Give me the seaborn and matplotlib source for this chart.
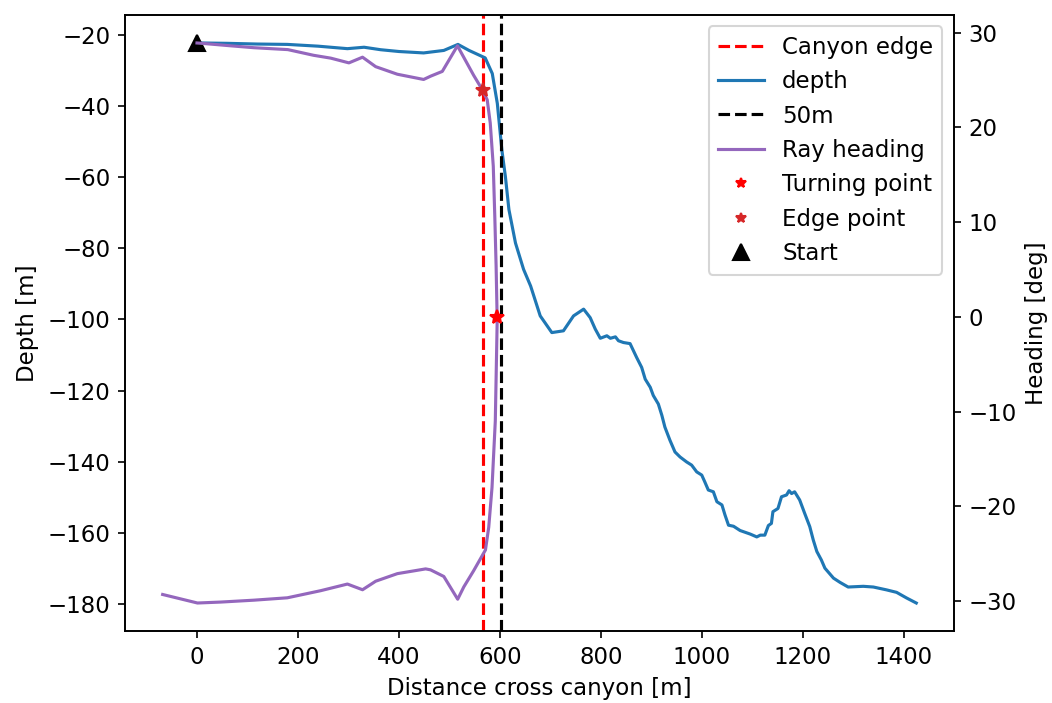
import numpy as np
import pandas as pd
import matplotlib
matplotlib.use("Agg")
import matplotlib.pyplot as plt
from matplotlib.lines import Line2D
import seaborn as sns

plt.rcParams["font.size"] = 11

# depth profile across the canyon
depth_x = [0, 8, 60, 120, 179, 240, 298, 331, 364, 400, 449, 489, 517, 539, 571, 585,
           595, 604, 611, 618, 631, 647, 661, 680, 703, 726, 746, 766, 779, 789, 799,
           812, 819, 829, 835, 845, 858, 871, 881, 888, 898, 904, 914, 921, 927, 937,
           947, 957, 970, 980, 990, 1000, 1006, 1013, 1023, 1030, 1040, 1046, 1053,
           1063, 1076, 1096, 1109, 1116, 1125, 1132, 1138, 1141, 1151, 1158, 1168,
           1173, 1178, 1184, 1194, 1204, 1214, 1221, 1228, 1237, 1244, 1261, 1274,
           1290, 1320, 1340, 1366, 1386, 1406, 1425]
depth_y = [-22.2, -22.2, -22.3, -22.5, -22.6, -23.1, -23.8, -23.4, -24.1, -24.6, -25.0,
           -24.3, -22.6, -24.3, -26.4, -30.8, -39.2, -52.3, -59.8, -69.1, -78.5, -85.9,
           -90.6, -99.0, -103.7, -103.2, -99.0, -97.1, -99.5, -102.7, -105.3, -104.6,
           -105.3, -104.9, -106.0, -106.5, -106.8, -110.7, -113.5, -116.8, -119.1,
           -121.4, -123.8, -127.0, -130.3, -134.0, -137.3, -138.7, -140.1, -141.0,
           -142.9, -143.8, -145.7, -148.0, -148.5, -151.3, -152.2, -155.0, -157.9,
           -158.2, -159.4, -160.4, -161.2, -160.7, -160.7, -158.0, -157.4, -154.1,
           -153.2, -149.9, -149.4, -148.2, -149.0, -148.5, -150.8, -154.6, -158.3,
           -162.1, -165.3, -167.7, -170.0, -172.8, -174.0, -175.3, -175.1, -175.3,
           -176.1, -176.8, -178.4, -179.8]

# ray path: cross-canyon distance vs heading (goes out and comes back)
ray_x = [0, 8, 67, 113, 180, 231, 265, 301, 328, 354, 397, 449, 463, 486, 516, 548,
         566, 575, 581, 587, 590, 592.6, 594.6, 594.6, 591, 584.5, 578, 571.5, 548,
         528.6, 516.5, 489, 462.7, 453, 397, 354, 328, 298, 245, 179, 113, 47, 1, -68]
ray_heading = [28.9, 28.87, 28.6, 28.4, 28.2, 27.6, 27.3, 26.8, 27.4, 26.4, 25.6, 25.05,
               25.4, 25.9, 28.6, 25.5, 23.9, 22.9, 20.45, 15.9, 10.6, 5.4, 0.0, -0.8,
               -11.0, -18.0, -22.2, -24.6, -26.8, -28.5, -29.8, -27.4, -26.7, -26.6,
               -27.1, -27.9, -28.8, -28.2, -28.9, -29.65, -29.9, -30.1, -30.2, -29.3]

canyon_edge_x = 566
line_50m_x = 603
turning_point = (594.6, 0.0)
edge_point = (566, 23.9)
start_point = (0, -22.2)

depth_df = pd.DataFrame({"x": depth_x, "depth": depth_y})
ray_df = pd.DataFrame({"x": ray_x, "heading": ray_heading})

fig = plt.figure(figsize=(10.52 / 1.5, 7.03 / 1.5), dpi=150)
ax1 = fig.add_axes([0.1188, 0.1024, 0.788, 0.8763])
ax2 = ax1.twinx()

h_edge = ax1.axvline(canyon_edge_x, color="r", linestyle="--", label="Canyon edge")
sns.lineplot(data=depth_df, x="x", y="depth", ax=ax1, color="tab:blue", sort=False,
             estimator=None, legend=False)
h_depth = ax1.get_lines()[-1]
h_depth.set_label("depth")
h_50 = ax1.axvline(line_50m_x, color="k", linestyle="--", label="50m")
h_start, = ax1.plot([start_point[0]], [start_point[1]], "k^", markersize=8, label="Start")

sns.lineplot(data=ray_df, x="x", y="heading", ax=ax2, color="tab:purple", sort=False,
             estimator=None, legend=False)
h_ray = ax2.get_lines()[-1]
h_ray.set_label("Ray heading")
ax2.plot([turning_point[0]], [turning_point[1]], "r*", markersize=7)
ax2.plot([edge_point[0]], [edge_point[1]], "*", color="tab:red", markersize=7)

# smaller star markers in the legend, like the original
h_turn = Line2D([], [], color="r", marker="*", linestyle="none", markersize=5)
h_edgept = Line2D([], [], color="tab:red", marker="*", linestyle="none", markersize=5)

handles = [h_edge, h_depth, h_50, h_ray, h_turn, h_edgept, h_start]
labels = ["Canyon edge", "depth", "50m", "Ray heading", "Turning point", "Edge point", "Start"]
ax2.legend(handles, labels, loc="upper right")

ax1.set_xlabel("Distance cross canyon [m]")
ax1.set_ylabel("Depth [m]")
ax2.set_ylabel("Heading [deg]")

fig.savefig("out.png", dpi=150)
